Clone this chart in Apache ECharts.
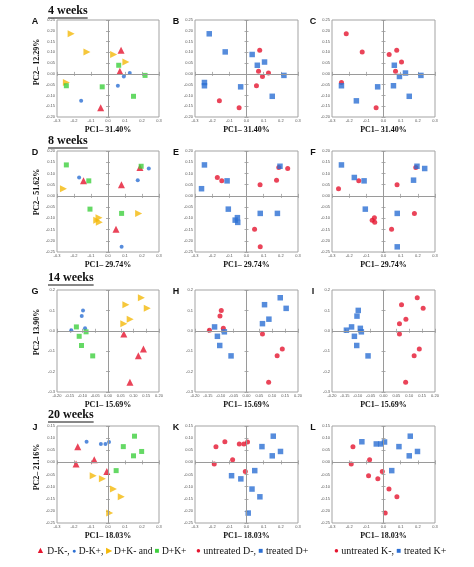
<!DOCTYPE html>
<html><head><meta charset="utf-8">
<script src="https://cdn.jsdelivr.net/npm/echarts@6.0.0/dist/echarts.min.js"></script>
<style>html,body{margin:0;padding:0;background:#fff}#c{width:474px;height:567px}</style>
</head><body><div id="c"></div><script>
// ---- data ----
const weeks = ['4 weeks', '8 weeks', '14 weeks', '20 weeks'];
const panelLetters = [['A', 'B', 'C'], ['D', 'E', 'F'], ['G', 'H', 'I'], ['J', 'K', 'L']];
const pc1Labels = ['PC1– 31.40%', 'PC1– 29.74%', 'PC1– 15.69%', 'PC1– 18.03%'];
const pc2Labels = ['PC2– 12.29%', 'PC2– 51.62%', 'PC2– 13.90%', 'PC2– 21.16%'];
const xAxisRange = [[-0.3, 0.3, 0.1], [-0.3, 0.3, 0.1], [-0.2, 0.2, 0.05], [-0.3, 0.3, 0.1]];
const yAxisRange = [[-0.2, 0.25, 0.05], [-0.25, 0.2, 0.05], [-0.3, 0.2, 0.1], [-0.25, 0.15, 0.05]];
const xDecimals = [1, 1, 2, 1];
const yDecimals = [2, 2, 1, 2];
const legend1 = ['D-K-,', 'D-K+,', 'D+K- and', 'D+K+'];
const legend2 = ['untreated D-,', 'treated D+'];
const legend3 = ['untreated K-,', 'treated K+'];

// D-K- (per week: 4, 8, 14, 20)
const DmKm = [
  [[0.077, 0.110], [0.070, 0.012], [-0.043, -0.157]],
  [[-0.144, 0.068], [0.188, 0.127], [0.079, 0.050], [0.047, -0.149]],
  [[0.062, -0.016], [0.139, -0.089], [0.119, -0.122], [0.086, -0.252]],
  [[-0.178, 0.064], [-0.188, -0.007], [-0.081, 0.011], [-0.007, -0.038]]
];
// D-K+
const DmKp = [
  [[0.128, 0.004], [0.093, -0.012], [0.058, -0.055], [-0.158, -0.125]],
  [[-0.170, 0.082], [0.240, 0.122], [0.175, 0.070], [0.080, -0.227]],
  [[-0.098, 0.100], [-0.103, 0.072], [-0.090, 0.012], [-0.144, 0.003]],
  [[-0.126, 0.085], [-0.042, 0.076], [-0.015, 0.076], [0.006, 0.084]]
];
// D+K-
const DpKm = [
  [[-0.217, 0.186], [-0.124, 0.102], [0.033, 0.090], [0.105, 0.055], [-0.245, -0.040]],
  [[-0.262, 0.032], [0.180, -0.078], [-0.066, -0.108], [-0.053, -0.097], [-0.051, -0.118]],
  [[0.070, 0.128], [0.131, 0.162], [0.154, 0.110], [0.087, 0.057], [0.062, 0.035]],
  [[-0.087, -0.055], [-0.033, -0.068], [0.032, -0.110], [0.078, -0.142], [0.010, -0.209]]
];
// D+K+
const DpKp = [
  [[0.063, 0.040], [0.218, -0.007], [-0.245, -0.055], [-0.034, -0.060], [0.150, -0.104]],
  [[-0.245, 0.138], [-0.113, 0.067], [0.195, 0.132], [-0.106, -0.059], [0.080, -0.078]],
  [[-0.124, 0.019], [-0.113, -0.027], [-0.086, -0.005], [-0.104, -0.072], [-0.060, -0.123]],
  [[0.156, 0.108], [0.090, 0.065], [0.198, 0.045], [0.150, 0.027], [0.048, -0.034]]
];

// ---- styles / layout ----
const RED = '#e5152f', BLUE = '#2c6fd3', YELLOW = '#f4b90a', GREEN = '#3fd03f';
const colLeft = [57, 195, 332], colWidth = [102, 103, 103];
const rowTop = [20, 151, 290, 426], rowHeight = [97, 101, 102, 97];
const titleY = [11, 141, 278, 415];
const pc2Y = [62, 192, 332, 467];
const SERIF = '"Liberation Serif", "Times New Roman", serif';
const SANS = '"Liberation Sans", Arial, sans-serif';

const chart = echarts.init(document.getElementById('c'), null, {renderer: 'canvas', width: 474, height: 567});
const grids = [], xAxes = [], yAxes = [], xTop = [], yRight = [], series = [], graphics = [];
const fmt = d => v => (Math.abs(v) < 1e-9 ? 0 : v).toFixed(d);
const measure = (() => { const cv = document.createElement('canvas').getContext('2d'); return (t, f) => { cv.font = f; return cv.measureText(t).width; }; })();

for (let r = 0; r < 4; r++) {
  for (let c = 0; c < 3; c++) {
    const gi = r * 3 + c;
    grids.push({left: colLeft[c], top: rowTop[r], width: colWidth[c], height: rowHeight[r],
      show: true, borderColor: '#a3a3a3', borderWidth: 1, containLabel: false});
    const [xmin, xmax, xint] = xAxisRange[r];
    const [ymin, ymax, yint] = yAxisRange[r];
    const tick = {show: true, inside: true, length: 2, lineStyle: {color: '#999', width: 0.8}};
    xAxes.push({type: 'value', gridIndex: gi, min: xmin, max: xmax, interval: xint, position: 'bottom',
      axisLine: {show: false}, axisTick: tick, splitLine: {show: false},
      axisLabel: {fontSize: 4, margin: 2, color: '#555', fontFamily: SANS, formatter: fmt(xDecimals[r]), showMinLabel: true, showMaxLabel: true, hideOverlap: false}});
    yAxes.push({type: 'value', gridIndex: gi, min: ymin, max: ymax, interval: yint, position: 'left',
      axisLine: {show: false}, axisTick: tick, splitLine: {show: false},
      axisLabel: {fontSize: 4, margin: 2, color: '#555', fontFamily: SANS, formatter: fmt(yDecimals[r]), showMinLabel: true, showMaxLabel: true, hideOverlap: false}});
    xTop.push({type: 'value', gridIndex: gi, min: xmin, max: xmax, interval: xint, position: 'top',
      axisLine: {show: false}, axisTick: tick, splitLine: {show: false}, axisLabel: {show: false}});
    yRight.push({type: 'value', gridIndex: gi, min: ymin, max: ymax, interval: yint, position: 'right',
      axisLine: {show: false}, axisTick: tick, splitLine: {show: false}, axisLabel: {show: false}});

    // zero lines
    series.push({type: 'scatter', xAxisIndex: gi, yAxisIndex: gi, data: [], z: 1, silent: true,
      markLine: {silent: true, symbol: ['none', 'none'], label: {show: false}, animation: false,
        lineStyle: {color: '#9a9a9a', width: 1, type: 'solid'}, data: [{xAxis: 0}, {yAxis: 0}]}});

    const S = (data, symbol, size, color, rot) => series.push({type: 'scatter', xAxisIndex: gi, yAxisIndex: gi,
      data: data, symbol: symbol, symbolSize: size, symbolRotate: rot || 0, itemStyle: {color: color}, z: 3, animation: false});
    if (c === 0) {
      S(DmKm[r], 'triangle', 7, RED);
      S(DmKp[r], 'circle', 4, BLUE);
      S(DpKm[r], 'triangle', 7, YELLOW, -90);
      S(DpKp[r], 'rect', 5, GREEN);
    } else if (c === 1) {
      S(DmKm[r].concat(DmKp[r]), 'circle', 5, RED);
      S(DpKm[r].concat(DpKp[r]), 'rect', 5.5, BLUE);
    } else {
      S(DmKm[r].concat(DpKm[r]), 'circle', 5, RED);
      S(DmKp[r].concat(DpKp[r]), 'rect', 5.5, BLUE);
    }

    // panel letter
    graphics.push({type: 'text', x: colLeft[c] - (c === 0 ? 22 : 19), y: rowTop[r] + 2,
      style: {text: panelLetters[r][c], font: 'bold 9px ' + SANS, fill: '#111', align: 'center', verticalAlign: 'middle'}});
    // PC1 label
    graphics.push({type: 'text', x: colLeft[c] + colWidth[c] / 2, y: rowTop[r] + rowHeight[r] + 13,
      style: {text: pc1Labels[r], font: 'bold 8px ' + SERIF, fill: '#111', align: 'center', verticalAlign: 'middle'}});
  }
  // week title
  const tf = 'bold 12px ' + SERIF;
  const tw = measure(weeks[r], tf);
  graphics.push({type: 'text', x: 48, y: titleY[r], style: {text: weeks[r], font: tf, fill: '#111', align: 'left', verticalAlign: 'middle'}});
  graphics.push({type: 'line', shape: {x1: 48, y1: titleY[r] + 7, x2: 48 + tw, y2: titleY[r] + 7}, style: {stroke: '#111', lineWidth: 1}});
  // PC2 label
  graphics.push({type: 'text', x: 37, y: pc2Y[r], rotation: Math.PI / 2,
    style: {text: pc2Labels[r], font: 'bold 8px ' + SERIF, fill: '#111', align: 'center', verticalAlign: 'middle'}});
}

// legends (rich text)
const lf = '10px ' + SERIF;
graphics.push({type: 'text', x: 36, y: 551, style: {
  text: '{r|▲} ' + legend1[0] + ' {b|●} ' + legend1[1] + ' {y|▶} ' + legend1[2] + ' {g|■} ' + legend1[3],
  font: '9.5px ' + SERIF, fill: '#111', verticalAlign: 'middle',
  rich: {r: {fill: RED, fontSize: 9}, b: {fill: BLUE, fontSize: 7}, y: {fill: YELLOW, fontSize: 8}, g: {fill: GREEN, fontSize: 8}}}});
graphics.push({type: 'text', x: 196, y: 551, style: {
  text: '{r|●} ' + legend2[0] + ' {b|■} ' + legend2[1], font: lf, fill: '#111', verticalAlign: 'middle',
  rich: {r: {fill: RED, fontSize: 8}, b: {fill: BLUE, fontSize: 8}}}});
graphics.push({type: 'text', x: 334, y: 551, style: {
  text: '{r|●} ' + legend3[0] + ' {b|■} ' + legend3[1], font: lf, fill: '#111', verticalAlign: 'middle',
  rich: {r: {fill: RED, fontSize: 8}, b: {fill: BLUE, fontSize: 8}}}});

chart.setOption({
  animation: false,
  backgroundColor: '#fff',
  grid: grids,
  xAxis: xAxes.concat(xTop),
  yAxis: yAxes.concat(yRight),
  series: series,
  graphic: graphics
});
</script></body></html>
